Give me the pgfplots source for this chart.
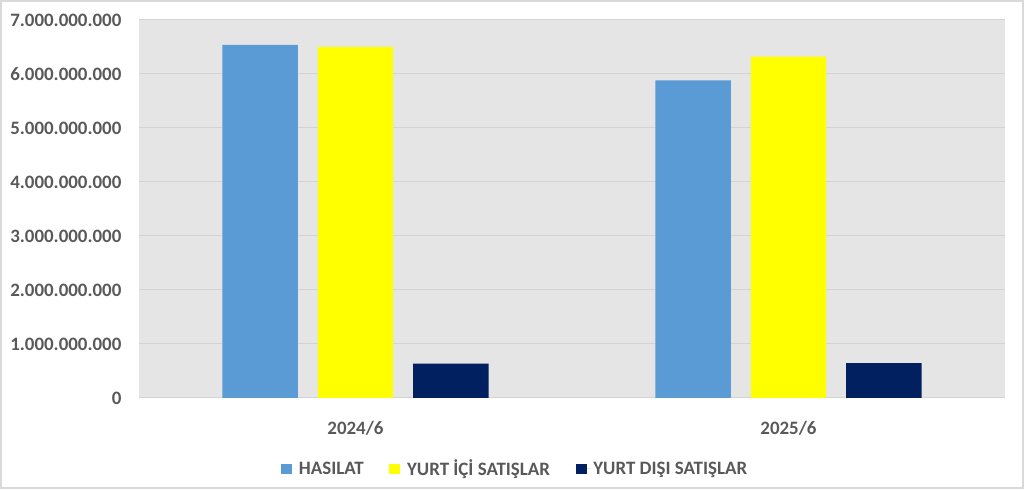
\documentclass[border=0pt]{standalone}
\usepackage{fontspec}
\setmainfont{Carlito}
\usepackage{pgfplots}
\pgfplotsset{compat=1.18}

\definecolor{hasilat}{HTML}{5B9BD5}
\definecolor{ici}{HTML}{FFFF00}
\definecolor{disi}{HTML}{002060}
\definecolor{plotbg}{HTML}{E5E5E5}
\definecolor{gridc}{HTML}{D3D3D3}
\definecolor{txt}{HTML}{595959}
\definecolor{framec}{HTML}{D9D9D9}

\begin{document}
\begin{tikzpicture}
% 1px = 0.75pt, picture is 1024 x 489 px
\path[use as bounding box] (0,0) rectangle (768pt,366.75pt);
\draw[framec, line width=1.5pt] (0.75pt,0.75pt) rectangle (767.25pt,366pt);
\begin{axis}[
  at={(104.25pt,68.25pt)}, anchor=south west,
  scale only axis, width=649.5pt, height=283.5pt,
  ybar=15pt, bar width=56.6pt,
  xmin=-0.5, xmax=1.5, ymin=0, ymax=7000000000,
  xtick={0,1}, xticklabels={2024/6,2025/6},
  ytick={0,1000000000,2000000000,3000000000,4000000000,5000000000,6000000000,7000000000},
  scaled y ticks=false,
  axis background/.style={fill=plotbg},
  ymajorgrids, grid style={gridc, line width=0.75pt},
  axis line style={draw=none},
  major tick length=0pt,
  tick label style={font=\fontsize{14.2}{17}\selectfont\bfseries, text=txt, inner sep=0pt},
  y tick label style={anchor=east, xshift=-13pt,
    /pgf/number format/fixed, /pgf/number format/precision=0,
    /pgf/number format/1000 sep={.}, /pgf/number format/assume math mode=true},
  x tick label style={anchor=base, yshift=-27.5pt},
  legend columns=3,
  legend style={at={(0.4348,-0.1878)}, anchor=center, draw=none, fill=none,
    font=\fontsize{14.2}{17}\selectfont\bfseries, text=txt,
    nodes={inner sep=2pt},
    /tikz/every even column/.append style={column sep=17.25pt}},
  legend image code/.code={\fill[#1] (0pt,-4.1pt) rectangle (8.25pt,4.1pt);
    \path (0pt,0pt) -- (11.25pt,0pt);},
]
% HASILAT
\addplot[fill=hasilat, draw=none] coordinates {(0,6540000000) (1,5880000000)};
% YURT ICI SATISLAR
\addplot[fill=ici, draw=none] coordinates {(0,6500000000) (1,6320000000)};
% YURT DISI SATISLAR
\addplot[fill=disi, draw=none] coordinates {(0,635000000) (1,645000000)};
\legend{HASILAT, YURT İÇİ SATIŞLAR, YURT DIŞI SATIŞLAR}
\end{axis}
\end{tikzpicture}
\end{document}
